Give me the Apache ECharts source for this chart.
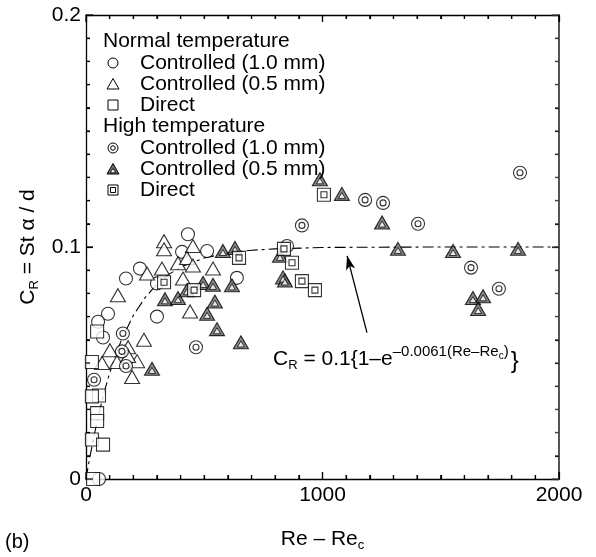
<!DOCTYPE html>
<html>
<head>
<meta charset="utf-8">
<script src="https://cdn.jsdelivr.net/npm/echarts@6/dist/echarts.min.js"></script>
<style>html,body{margin:0;padding:0;background:#fff}#c{width:596px;height:557px;background:#fff}</style>
</head>
<body>
<div id="c"></div>
<script>
// ---- data ----
const normCircleX = [431, 228, 169, 406, 300, 93, 51, 300, 512, 638, 850, 72, 55];
const normCircleY = [0.1055, 0.0907, 0.0864, 0.0979, 0.0700, 0.0712, 0.0678, 0.0843, 0.0983, 0.0867, 0.1004, 0.0610, 0.0];

const normTriX = [330, 330, 452, 389, 427, 452, 321, 258, 410, 135, 440, 245, 537, 178, 101, 216, 131, 195, 178, 68];
const normTriY = [0.1025, 0.0990, 0.1004, 0.0930, 0.0953, 0.0920, 0.0907, 0.0886, 0.0864, 0.0792, 0.0722, 0.0600, 0.0907, 0.0568, 0.0555, 0.0508, 0.0504, 0.0440, 0.0530, 0.0500];

const normSqX = [25, 47, 55, 25, 47, 47, 25, 72, 30];
const normSqY = [0.0504, 0.0636, 0.0360, 0.0356, 0.0284, 0.0250, 0.0170, 0.0148, 0.0];

const highCircX = [156, 169, 152, 34, 465, 913, 1180, 1256, 1404, 1835, 1628, 1746];
const highCircY = [0.0627, 0.0487, 0.0550, 0.0428, 0.0568, 0.1093, 0.1203, 0.1190, 0.1100, 0.1320, 0.0911, 0.0820];

const highTriX = [279, 334, 389, 495, 537, 617, 545, 512, 554, 655, 427, 579, 630, 833, 841, 820, 989, 1082, 1252, 1319, 1552, 1827, 1636, 1679, 1658];
const highTriY = [0.0475, 0.0775, 0.0780, 0.0845, 0.0837, 0.0835, 0.0765, 0.0712, 0.0646, 0.0589, 0.0814, 0.0983, 0.0996, 0.0869, 0.0856, 0.0962, 0.1292, 0.1229, 0.1106, 0.0992, 0.0983, 0.0992, 0.0780, 0.0788, 0.0733];

const highSqX = [330, 457, 647, 837, 871, 913, 968, 1006];
const highSqY = [0.0848, 0.0814, 0.0953, 0.0992, 0.0932, 0.0853, 0.0814, 0.1225];

// fitted curve
const fitCurveX = [0, 10, 25, 50, 75, 100, 125, 150, 200, 250, 300, 350, 400, 500, 600, 700, 800, 1000, 1200, 1500, 2000];
const fitCurveY = [0, 0.0059, 0.0141, 0.0263, 0.0367, 0.0457, 0.0533, 0.0600, 0.0705, 0.0782, 0.0840, 0.0882, 0.0913, 0.0953, 0.0974, 0.0986, 0.0992, 0.0998, 0.0999, 0.1000, 0.1000];

// annotation arrow (tail, head)
const arrowTail = [1188, 0.0631];
const arrowHead = [1104, 0.0962];

const xTicks = [0, 1000, 2000];
const yTicks = [0, 0.1, 0.2];
const minorSplit = 10;

const legendHeaders = ['Normal temperature', 'High temperature'];
const legendItems = ['Controlled (1.0 mm)', 'Controlled (0.5 mm)', 'Direct'];

// ---- chart ----
const FONT = "'Liberation Sans', Arial, Helvetica, sans-serif";
const zip = (a, b) => a.map((v, i) => [v, b[i]]);

const chart = echarts.init(document.getElementById('c'), null, {renderer: 'canvas'});

function axisCommon(extra) {
  return Object.assign({
    type: 'value',
    axisLine: {show: true, onZero: false, lineStyle: {color: '#000', width: 1.3}},
    axisTick: {show: true, inside: true, length: 7, lineStyle: {color: '#000', width: 1.2}},
    minorTick: {show: true, splitNumber: minorSplit, length: 4, lineStyle: {color: '#000', width: 1.2}},
    splitLine: {show: false},
    minorSplitLine: {show: false}
  }, extra);
}

const markerBase = {type: 'scatter', xAxisIndex: 0, yAxisIndex: 0, clip: false, silent: true};

const series = [
  {
    type: 'line', name: 'fit', data: zip(fitCurveX, fitCurveY), showSymbol: false, symbol: 'none',
    lineStyle: {color: '#000', width: 1.1, type: [11, 4, 3, 4]}, z: 1, silent: true,
    markLine: {
      silent: true, symbol: ['none', 'arrow'], symbolSize: [7, 14],
      lineStyle: {color: '#000', width: 1.3, type: 'solid'}, label: {show: false},
      data: [[{coord: arrowTail}, {coord: arrowHead}]]
    }
  },
  Object.assign({}, markerBase, {name: 'N circ', data: zip(normCircleX, normCircleY), symbol: 'circle', symbolSize: 13,
    itemStyle: {color: '#fff', borderColor: '#000', borderWidth: 1.1}, z: 3}),
  Object.assign({}, markerBase, {name: 'N tri', data: zip(normTriX, normTriY), symbol: 'triangle', symbolSize: [15, 13],
    itemStyle: {color: '#fff', borderColor: '#000', borderWidth: 1.1}, z: 3}),
  Object.assign({}, markerBase, {name: 'N sq', data: zip(normSqX, normSqY), symbol: 'rect', symbolSize: 13,
    itemStyle: {color: '#fff', borderColor: '#000', borderWidth: 1.1}, z: 3}),
  Object.assign({}, markerBase, {name: 'H circ', data: zip(highCircX, highCircY), symbol: 'circle', symbolSize: 13,
    itemStyle: {color: '#fff', borderColor: '#000', borderWidth: 1.1}, z: 4}),
  Object.assign({}, markerBase, {name: 'H circ in', data: zip(highCircX, highCircY), symbol: 'circle', symbolSize: 6,
    itemStyle: {color: '#fff', borderColor: '#000', borderWidth: 1.1}, z: 4}),
  Object.assign({}, markerBase, {name: 'H tri', data: zip(highTriX, highTriY), symbol: 'triangle', symbolSize: [15, 13],
    itemStyle: {color: '#6a6a6a', borderColor: '#000', borderWidth: 1.1}, z: 4}),
  Object.assign({}, markerBase, {name: 'H tri in', data: zip(highTriX, highTriY), symbol: 'triangle', symbolSize: [7, 6], symbolOffset: [0, 1.6],
    itemStyle: {color: '#fff', borderColor: '#000', borderWidth: 0.9}, z: 4}),
  Object.assign({}, markerBase, {name: 'H sq', data: zip(highSqX, highSqY), symbol: 'rect', symbolSize: 13,
    itemStyle: {color: '#fff', borderColor: '#000', borderWidth: 1.1}, z: 4}),
  Object.assign({}, markerBase, {name: 'H sq in', data: zip(highSqX, highSqY), symbol: 'rect', symbolSize: 6,
    itemStyle: {color: '#fff', borderColor: '#000', borderWidth: 1.1}, z: 4})
];

// ---- text helpers ----
const mctx = document.createElement('canvas').getContext('2d');
function measure(s, size) { mctx.font = size + 'px ' + FONT; return mctx.measureText(s).width; }
const BASE_K = 0.81;
const g = [];
function txt(x, yBase, s, size) {
  g.push({type: 'text', left: x, top: yBase - Math.round(size * BASE_K), silent: true, z: 10,
    style: {text: s, font: size + 'px ' + FONT, fill: '#000'}});
}

// legend drawn as graphic
const LX = 113, TX = 140, rowBase = [48, 70, 91, 112, 133, 155, 176, 197];
function sym(kind, high, cx, cy) {
  const s = 10;
  if (kind === 0) {
    g.push({type: 'circle', shape: {cx: cx, cy: cy, r: s / 2}, style: {fill: '#fff', stroke: '#000', lineWidth: 1}, silent: true});
    if (high) g.push({type: 'circle', shape: {cx: cx, cy: cy, r: 2.3}, style: {fill: '#fff', stroke: '#000', lineWidth: 1}, silent: true});
  } else if (kind === 1) {
    g.push({type: 'polygon', shape: {points: [[cx, cy - 5.5], [cx + 6, cy + 5], [cx - 6, cy + 5]]},
      style: {fill: high ? '#6a6a6a' : '#fff', stroke: '#000', lineWidth: 1}, silent: true});
    if (high) g.push({type: 'polygon', shape: {points: [[cx, cy - 0.5], [cx + 2.8, cy + 3.8], [cx - 2.8, cy + 3.8]]},
      style: {fill: '#fff', stroke: '#000', lineWidth: 0.8}, silent: true});
  } else {
    g.push({type: 'rect', shape: {x: cx - 5, y: cy - 5, width: 10, height: 10}, style: {fill: '#fff', stroke: '#000', lineWidth: 1}, silent: true});
    if (high) g.push({type: 'rect', shape: {x: cx - 2.5, y: cy - 2.5, width: 5, height: 5}, style: {fill: '#fff', stroke: '#000', lineWidth: 1}, silent: true});
  }
}
legendHeaders.forEach((h, hi) => {
  const r0 = hi * 4;
  txt(103, rowBase[r0], h, 21);
  legendItems.forEach((it, i) => {
    const yb = rowBase[r0 + 1 + i];
    sym(i, hi === 1, LX, yb - 7);
    txt(TX, yb, it, 21);
  });
});

// equation text: pieces [text, fontSize, baseline]
const eqPieces = [
  ['C', 21, 366], ['R', 13, 370], [' = 0.1{1–e', 21, 366],
  ['–0.0061(Re–Re', 15, 356], ['c', 10, 359], [')', 15, 356]
];
let ex = 273;
eqPieces.forEach(p => { txt(ex, p[2], p[0], p[1]); ex += measure(p[0], p[1]); });
txt(ex + 2, 368, '}', 24);

// panel label
txt(5, 548, '(b)', 20);

const option = {
  animation: false,
  grid: {left: 86, right: 37, top: 15, bottom: 70},
  xAxis: [
    axisCommon({
      min: xTicks[0], max: xTicks[xTicks.length - 1], interval: xTicks[1] - xTicks[0], position: 'bottom',
      axisLabel: {show: true, fontSize: 21, fontFamily: FONT, color: '#000', margin: 6, formatter: v => String(v)},
      name: '{a|Re – Re}{s|c}', nameLocation: 'middle', nameGap: 47,
      nameTextStyle: {color: '#000', rich: {
        a: {fontSize: 21, fontFamily: FONT, lineHeight: 26, verticalAlign: 'middle'},
        s: {fontSize: 13, fontFamily: FONT, lineHeight: 14, verticalAlign: 'bottom'}}}
    }),
    axisCommon({
      min: xTicks[0], max: xTicks[xTicks.length - 1], interval: xTicks[1] - xTicks[0], position: 'top',
      axisLabel: {show: false}
    })
  ],
  yAxis: [
    axisCommon({
      min: yTicks[0], max: yTicks[yTicks.length - 1], interval: yTicks[1] - yTicks[0], position: 'left',
      axisLabel: {show: true, fontSize: 21, fontFamily: FONT, color: '#000', margin: 5,
        formatter: v => (v === 0 ? '0' : v.toFixed(1))},
      name: '{a|C}{s|R}{a| = St α / d}', nameLocation: 'middle', nameGap: 40, nameRotate: 90,
      nameTextStyle: {color: '#000', rich: {
        a: {fontSize: 21, fontFamily: FONT, lineHeight: 26, verticalAlign: 'middle'},
        s: {fontSize: 13, fontFamily: FONT, lineHeight: 14, verticalAlign: 'bottom'}}}
    }),
    axisCommon({
      min: yTicks[0], max: yTicks[yTicks.length - 1], interval: yTicks[1] - yTicks[0], position: 'right',
      axisLine: {show: true, onZero: false, lineStyle: {color: '#555', width: 2}},
      axisLabel: {show: false}
    })
  ],
  series: series,
  graphic: g
};
chart.setOption(option);

// Inward ticks on all four sides, placed through the library's own axis scales
const tickG = [];
const xMin = xTicks[0], xMax = xTicks[xTicks.length - 1], xStep = (xTicks[1] - xTicks[0]) / minorSplit;
const yMin = yTicks[0], yMax = yTicks[yTicks.length - 1], yStep = (yTicks[1] - yTicks[0]) / minorSplit;
const pxBottom = chart.convertToPixel({yAxisIndex: 0}, yMin);
const pxTop = chart.convertToPixel({yAxisIndex: 0}, yMax);
const pxLeft = chart.convertToPixel({xAxisIndex: 0}, xMin);
const pxRight = chart.convertToPixel({xAxisIndex: 0}, xMax);
const nX = Math.round((xMax - xMin) / xStep), nY = Math.round((yMax - yMin) / yStep);
for (let i = 0; i <= nX; i++) {
  const px = chart.convertToPixel({xAxisIndex: 0}, xMin + i * xStep);
  const len = i % minorSplit === 0 ? 7 : 4;
  [[pxBottom, -1], [pxTop, 1]].forEach(([y0, d]) => tickG.push({type: 'line', silent: true, z: 20,
    shape: {x1: px, y1: y0, x2: px, y2: y0 + d * len}, style: {stroke: '#000', lineWidth: 1.2}}));
}
for (let i = 0; i <= nY; i++) {
  const py = chart.convertToPixel({yAxisIndex: 0}, yMin + i * yStep);
  const len = i % minorSplit === 0 ? 7 : 4;
  [[pxLeft, 1, '#000'], [pxRight, -1, '#444']].forEach(([x0, d, c]) => tickG.push({type: 'line', silent: true, z: 20,
    shape: {x1: x0, y1: py, x2: x0 + d * len, y2: py}, style: {stroke: c, lineWidth: 1.2}}));
}
chart.setOption({graphic: g.concat(tickG)});
</script>
</body>
</html>
